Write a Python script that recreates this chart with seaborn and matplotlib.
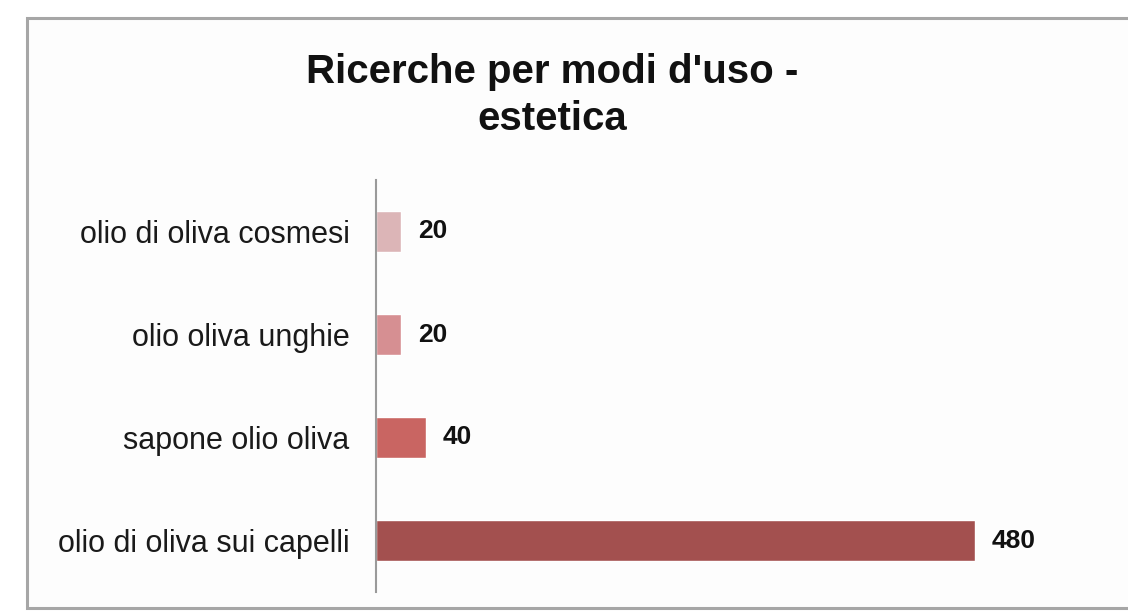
import matplotlib
matplotlib.use("Agg")
import matplotlib.pyplot as plt
from matplotlib.patches import Rectangle
import seaborn as sns
import pandas as pd

categories = [
    "olio di oliva cosmesi",
    "olio oliva unghie",
    "sapone olio oliva",
    "olio di oliva sui capelli",
]
values = [20, 20, 40, 480]
bar_colors = ["#dcb5b7", "#d68f92", "#c96562", "#a3504f"]
title_lines = ["Ricerche per modi d'uso -", "estetica"]

sns.set_theme(style="white")
plt.rcParams["font.family"] = ["Liberation Sans", "DejaVu Sans"]

df = pd.DataFrame({"categoria": categories, "ricerche": values})

fig = plt.figure(figsize=(11.28, 6.13), dpi=100)
fig.patch.set_facecolor("white")

# framed panel around the whole chart
frame = Rectangle((27 / 1128, 1 - 608 / 613), 1.2, (608 - 18) / 613,
                  transform=fig.transFigure, facecolor="#fdfdfd",
                  edgecolor="#a6a6a6", linewidth=2.2, zorder=-5)
fig.patches.append(frame)

ax = fig.add_axes([376 / 1128, 1 - 592 / 613, (1100 - 376) / 1128, (592 - 180) / 613])
ax.set_zorder(2)
ax.set_facecolor("none")

sns.barplot(data=df, x="ricerche", y="categoria", hue="categoria",
            palette=bar_colors, orient="h", width=0.39, legend=False,
            saturation=1, ax=ax)

for container in ax.containers:
    ax.bar_label(container, padding=12, fontsize=19, fontweight="bold",
                 color="#111111")

ax.set_xlim(0, 580)
ax.set_xlabel("")
ax.set_ylabel("")
ax.set_xticks([])
ax.tick_params(axis="y", length=0, pad=19, labelsize=22, labelcolor="#1a1a1a")
for side in ["top", "right", "bottom"]:
    ax.spines[side].set_visible(False)
ax.spines["left"].set_color("#9a9a9a")
ax.spines["left"].set_linewidth(1.5)

# two-line bold title
for line, base_px in zip(title_lines, [83, 130]):
    fig.text(552 / 1128, 1 - base_px / 613, line, ha="center", va="baseline",
             fontsize=29, fontweight="bold", color="#111111")

fig.savefig("out.png", dpi=100)
